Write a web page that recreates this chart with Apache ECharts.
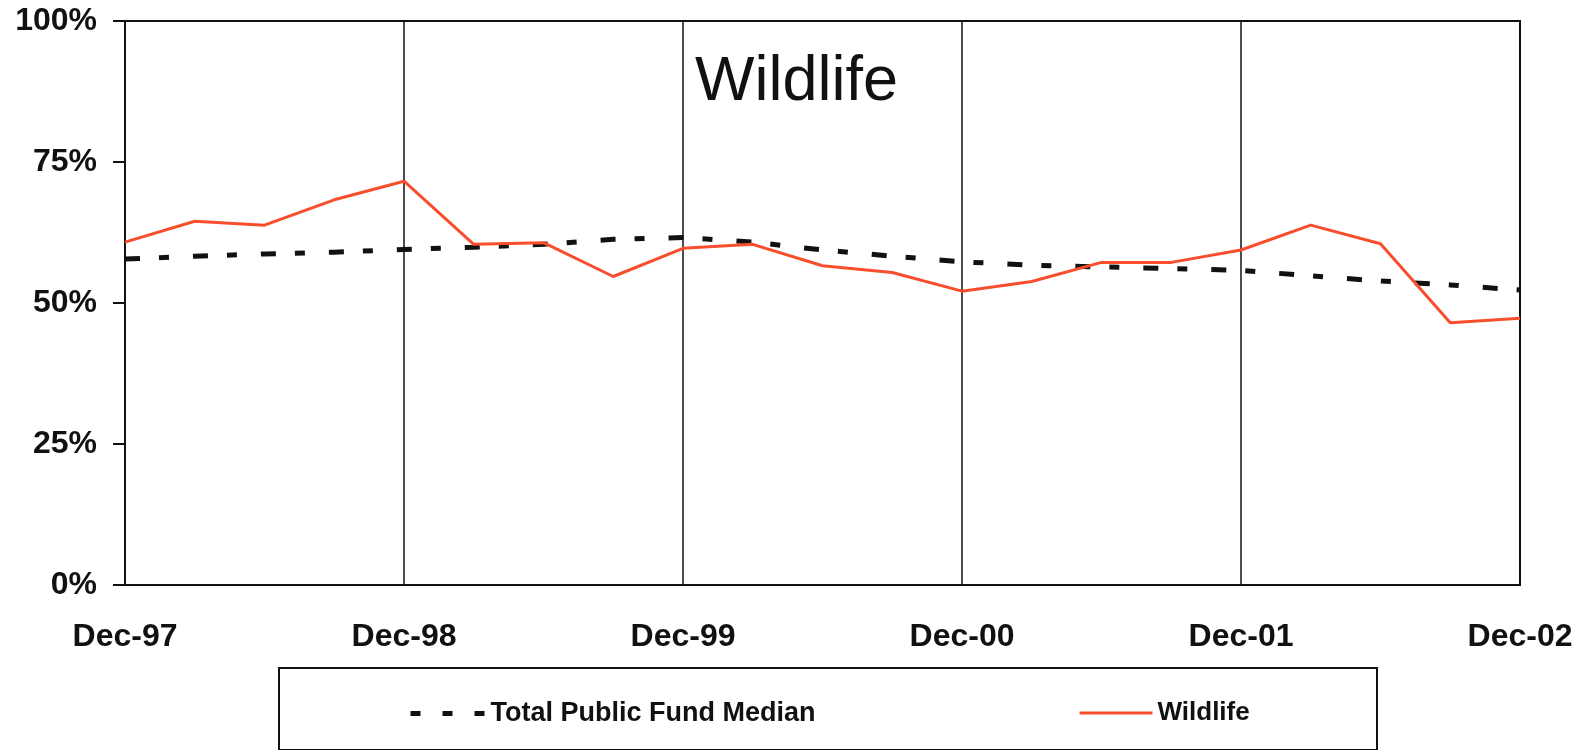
<!DOCTYPE html>
<html>
<head>
<meta charset="utf-8">
<script src="https://cdn.jsdelivr.net/npm/echarts@6/dist/echarts.min.js"></script>
<style>html,body{margin:0;padding:0;background:#fff;}#c{width:1587px;height:750px;}</style>
</head>
<body>
<div id="c"></div>
<script>
const categories = ['Dec-97','Mar-98','Jun-98','Sep-98','Dec-98','Mar-99','Jun-99','Sep-99','Dec-99','Mar-00','Jun-00','Sep-00','Dec-00','Mar-01','Jun-01','Sep-01','Dec-01','Mar-02','Jun-02','Sep-02','Dec-02'];
const wildlife = [60.8, 64.5, 63.8, 68.3, 71.6, 60.4, 60.7, 54.7, 59.7, 60.4, 56.6, 55.4, 52.1, 53.8, 57.2, 57.2, 59.4, 63.8, 60.5, 46.5, 47.3];
const median = [57.8, 58.3, 58.7, 59.0, 59.5, 59.9, 60.4, 61.3, 61.6, 60.8, 59.4, 58.3, 57.3, 56.7, 56.4, 56.1, 55.8, 54.8, 53.9, 53.2, 52.3];
const yTicks = [0, 25, 50, 75, 100];
const titleText = 'Wildlife';
const seriesNames = ['Total Public Fund Median', 'Wildlife'];

const FONT = 'Arial, "Liberation Sans", Helvetica, sans-serif';
const chart = echarts.init(document.getElementById('c'), null, {renderer: 'canvas'});
chart.setOption({
  animation: false,
  backgroundColor: '#fff',
  title: {
    text: titleText, left: 690, top: 46,
    textStyle: {fontFamily: FONT, fontSize: 63, fontWeight: 'normal', color: '#111'}
  },
  grid: {left: 125, right: 67, top: 21, bottom: 165, show: true, borderColor: '#111', borderWidth: 2, backgroundColor: 'transparent'},
  legend: [
    {data: [seriesNames[0]], left: 408, top: 700, padding: 0, itemWidth: 75, itemHeight: 14, itemGap: 0,
     textStyle: {fontFamily: FONT, fontSize: 27, fontWeight: 'bold', color: '#111'},
     itemStyle: {opacity: 0, color: 'transparent', borderWidth: 0},
     lineStyle: {type: [10, 22], width: 5, color: '#111'}},
    {data: [seriesNames[1]], left: 1078, top: 700, padding: 0, itemWidth: 73, itemHeight: 14, itemGap: 0,
     textStyle: {fontFamily: FONT, fontSize: 26, fontWeight: 'bold', color: '#111'},
     itemStyle: {opacity: 0, color: 'transparent', borderWidth: 0},
     lineStyle: {width: 3, color: '#f94e2e'}}
  ],
  graphic: [{
    type: 'rect', left: 278, top: 667, shape: {width: 1098, height: 82},
    style: {fill: 'transparent', stroke: '#111', lineWidth: 2}, silent: true
  }],
  xAxis: {
    type: 'category', data: categories, boundaryGap: false,
    axisLine: {show: true, lineStyle: {color: '#111', width: 2}},
    axisTick: {show: false},
    axisLabel: {interval: 3, margin: 36, fontFamily: FONT, fontSize: 32, fontWeight: 'bold', color: '#111'},
    splitLine: {show: true, interval: 3, lineStyle: {color: '#111', width: 1.5}}
  },
  yAxis: {
    type: 'value', min: yTicks[0], max: yTicks[yTicks.length - 1], interval: 25,
    axisLine: {show: true, lineStyle: {color: '#111', width: 2}},
    axisTick: {show: true, length: 12, lineStyle: {color: '#111', width: 2}},
    axisLabel: {margin: 28, formatter: '{value}%', fontFamily: FONT, fontSize: 32, fontWeight: 'bold', color: '#111'},
    splitLine: {show: false}
  },
  series: [
    {name: seriesNames[0], type: 'line', data: median, symbol: 'none', z: 3,
     lineStyle: {color: '#111', width: 5, type: [15, 19, 10, 24]}, itemStyle: {color: '#111'}},
    {name: seriesNames[1], type: 'line', data: wildlife, symbol: 'none', z: 4,
     lineStyle: {color: '#f94e2e', width: 3}, itemStyle: {color: '#f94e2e'}}
  ]
});
</script>
</body>
</html>
